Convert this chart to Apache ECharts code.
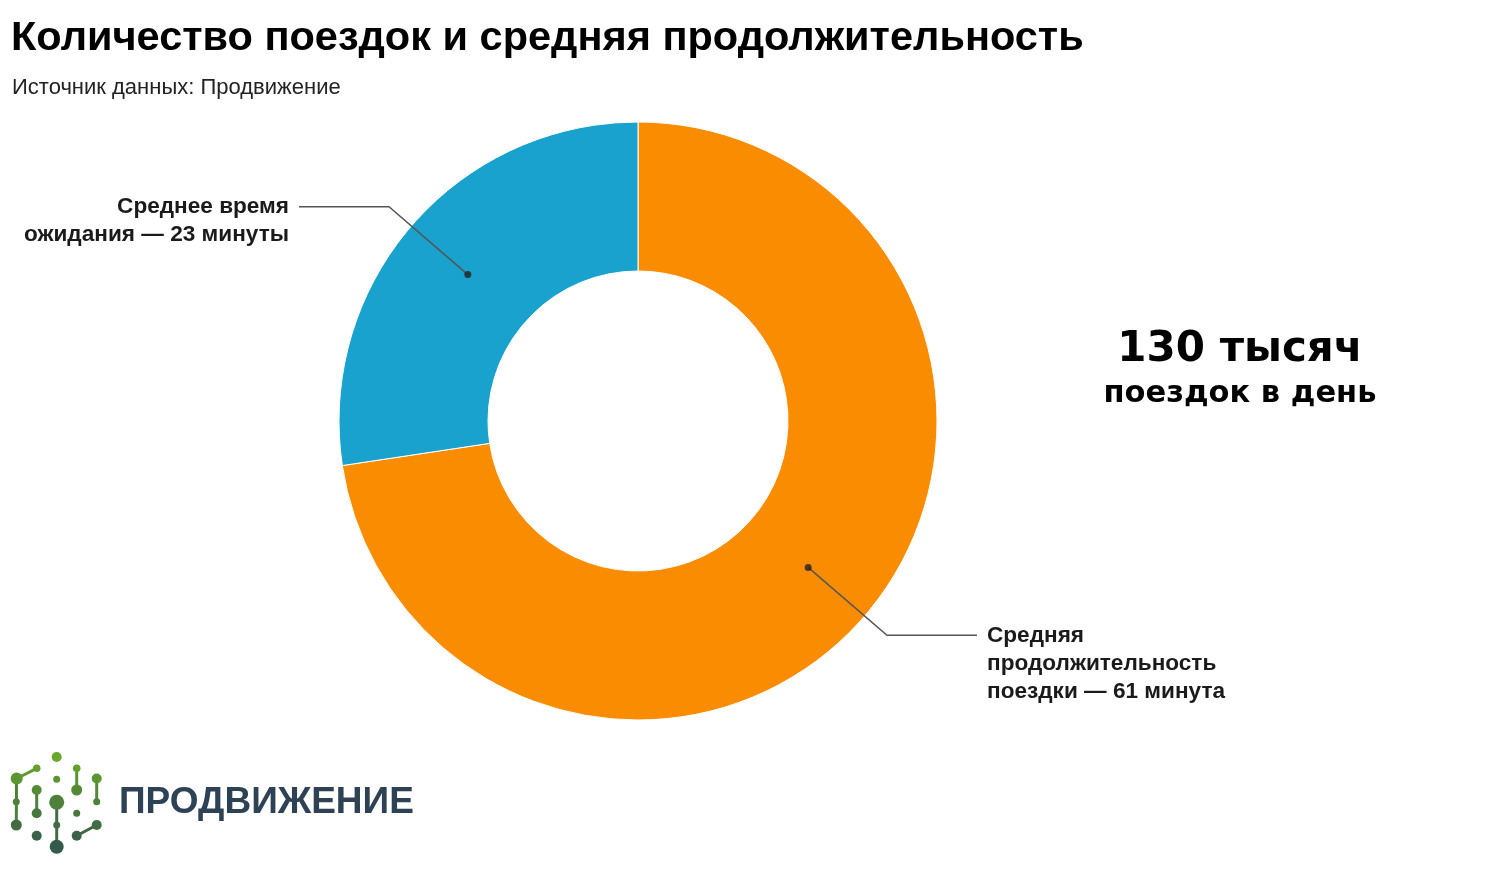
<!DOCTYPE html>
<html><head><meta charset="utf-8">
<script src="https://cdn.jsdelivr.net/npm/echarts@6/dist/echarts.min.js"></script>
<style>html,body{margin:0;padding:0;background:#fff}#c{width:1488px;height:894px}</style>
</head><body><div id="c"></div>
<script>
// ---- data ----
const titleText = 'Количество поездок и средняя продолжительность';
const subtitleText = 'Источник данных: Продвижение';
const categories = ['Средняя продолжительность поездки', 'Среднее время ожидания'];
const values = [61, 23];
const labelTexts = ['Средняя\nпродолжительность\nпоездки — 61 минута', 'Среднее время\nожидания — 23 минуты'];
const colors = ['#F98C00', '#19A2CD'];
const headline = ['130 тысяч', 'поездок в день'];
const logoText = 'ПРОДВИЖЕНИЕ';

// ---- layout ----
const CX = 638, CY = 421, R_IN = 150, R_OUT = 299;
const R_MID = (R_IN + R_OUT) / 2;
const LH = 28;
const total = values.reduce((a, b) => a + b, 0);
const mids = values.map((v, i) => values.slice(0, i).reduce((a, b) => a + b, 0) + v / 2);

// logo (decoration)
function lerpColor(t) {
  const a = [108, 172, 40], b = [50, 84, 78];
  const c = a.map((x, i) => Math.round(x + (b[i] - x) * t));
  return 'rgb(' + c.join(',') + ')';
}
const ly0 = 752, ly1 = 852;
function col(y) { return lerpColor(Math.max(0, Math.min(1, (y - ly0) / (ly1 - ly0)))); }
const logoDots = [
  [56.7, 757, 5], [36.7, 768.3, 3.8], [16.7, 778.5, 6], [16.3, 801.7, 3.5], [16.3, 825, 5.5],
  [56.7, 779.3, 3.5], [76.7, 768.3, 3.8], [76.7, 790, 5.5], [96.7, 778.5, 5], [96.7, 801.7, 3.5],
  [36.7, 790, 5], [36.7, 813.3, 5], [56.7, 802.3, 7.5], [56.7, 825, 3.5], [56.7, 846.7, 7],
  [76.7, 813.3, 3.5], [96.7, 825, 5], [76.7, 835.7, 5], [36.7, 835.7, 5]
];
const logoLines = [
  [36.7, 768.3, 16.7, 778.5], [16.5, 778.5, 16.3, 825], [76.7, 768.3, 76.7, 790], [96.7, 778.5, 96.7, 801.7],
  [36.7, 790, 36.7, 813.3], [56.7, 802.3, 56.7, 846.7], [96.7, 825, 76.7, 835.7]
];
const graphics = [];
logoLines.forEach(l => graphics.push({
  type: 'line', shape: { x1: l[0], y1: l[1], x2: l[2], y2: l[3] },
  style: { stroke: col((l[1] + l[3]) / 2), lineWidth: 3 }, silent: true
}));
logoDots.forEach(d => graphics.push({
  type: 'circle', shape: { cx: d[0], cy: d[1], r: d[2] }, style: { fill: col(d[1]) }, silent: true
}));
graphics.push({
  type: 'text', x: 119, y: 803,
  style: { text: logoText, fill: '#2E4256', font: 'bold 37px "Liberation Sans", Arial, sans-serif', textVerticalAlign: 'middle' },
  silent: true
});
graphics.push({
  type: 'text', x: 1240, y: 350,
  style: { text: headline[0], fill: '#000', font: 'bold 42px "DejaVu Sans", Verdana, sans-serif', textAlign: 'center', textVerticalAlign: 'middle' },
  silent: true
});
graphics.push({
  type: 'text', x: 1240, y: 394,
  style: { text: headline[1], fill: '#000', font: 'bold 30.5px "DejaVu Sans", Verdana, sans-serif', textAlign: 'center', textVerticalAlign: 'middle' },
  silent: true
});

const chart = echarts.init(document.getElementById('c'));
chart.setOption({
  backgroundColor: '#fff',
  animation: false,
  title: [
    { text: titleText, left: 11, top: 18, padding: 0, textStyle: { fontFamily: '"Liberation Sans", Arial, sans-serif', fontWeight: 'bold', fontSize: 41.5, color: '#000' } },
    { text: subtitleText, left: 12, top: 77, padding: 0, textStyle: { fontFamily: '"Liberation Sans", Arial, sans-serif', fontWeight: 'normal', fontSize: 22, color: '#222' } }
  ],
  polar: { center: [CX, CY], radius: R_OUT },
  angleAxis: { type: 'value', min: 0, max: total, startAngle: 90, clockwise: true, show: false },
  radiusAxis: { type: 'value', min: 0, max: R_OUT, show: false },
  series: [
    {
      type: 'pie', z: 1, center: [CX, CY], radius: [R_IN, R_OUT], startAngle: 90, clockwise: true,
      silent: true, label: { show: false }, labelLine: { show: false },
      itemStyle: { borderColor: '#fff', borderWidth: 1 },
      data: values.map((v, i) => ({ name: categories[i], value: v, itemStyle: { color: colors[i] } }))
    },
    {
      type: 'pie', z: 5, center: [CX, CY], radius: [0, R_MID], startAngle: 90, clockwise: true,
      silent: true, avoidLabelOverlap: false,
      itemStyle: { color: 'rgba(0,0,0,0)' },
      label: {
        show: true, position: 'outside', distanceToLabelLine: 10,
        fontFamily: '"Liberation Sans", Arial, sans-serif', fontWeight: 'bold', fontSize: 22.6, lineHeight: LH, color: '#1a1a1a'
      },
      labelLine: { show: true, length: 104, length2: 90, lineStyle: { color: '#555', width: 1.5 } },
      data: values.map((v, i) => {
        const t = labelTexts[i];
        const n = t.split('\n').length;
        // pad with blank lines so the first text line sits on the leader line
        return { name: categories[i], value: v, label: { formatter: '\n'.repeat(n - 1) + t } };
      })
    },
    {
      type: 'scatter', z: 6, coordinateSystem: 'polar', silent: true, symbolSize: 7,
      itemStyle: { color: '#222' },
      data: mids.map(m => [R_MID, m])
    }
  ],
  graphic: graphics
});
</script></body></html>
